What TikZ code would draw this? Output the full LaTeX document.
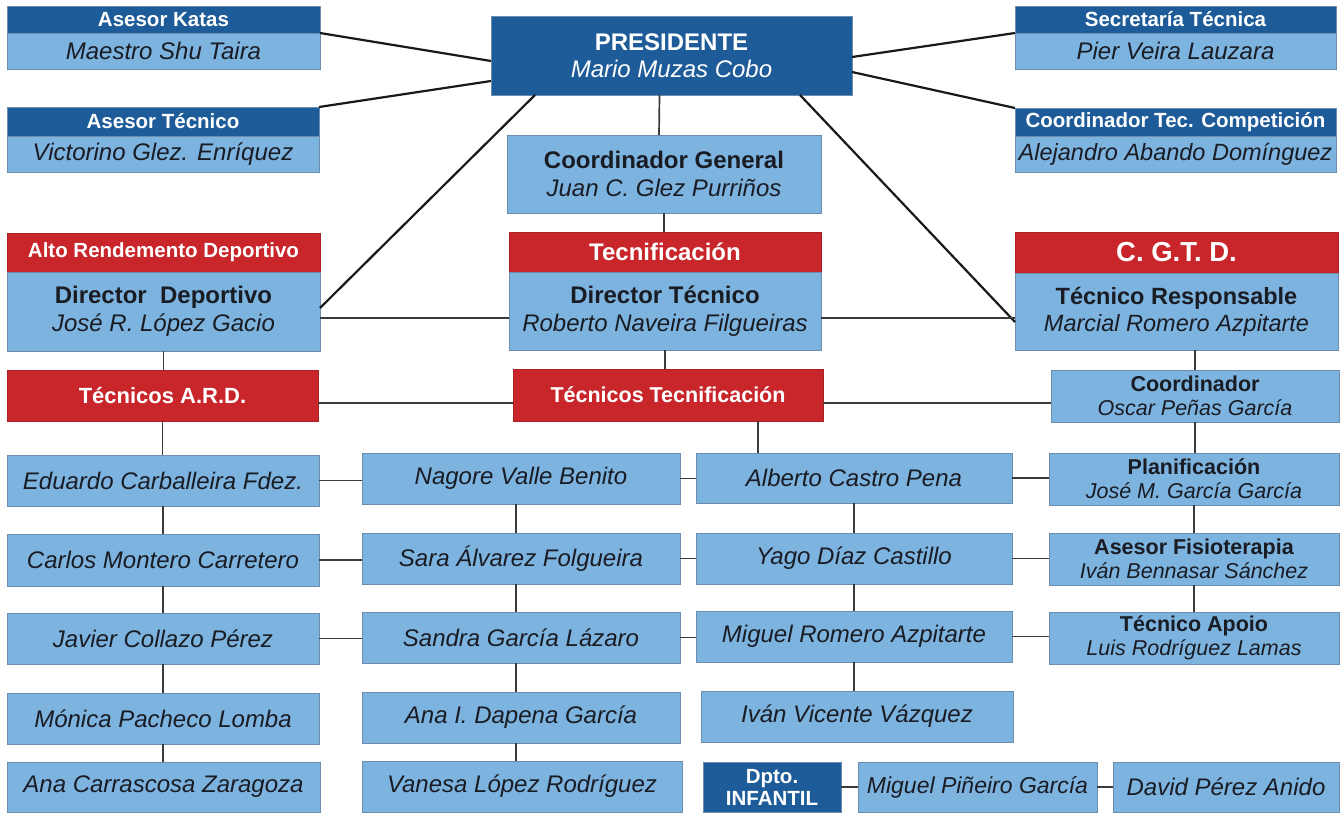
\documentclass[tikz,border=0pt]{standalone}
\usepackage{fontspec}
\setmainfont{Liberation Sans}
\usepackage{tikz}
\definecolor{azulosc}{HTML}{1E5C99}
\definecolor{azulcla}{HTML}{7DB3DF}
\definecolor{rojoard}{HTML}{C8262A}
\definecolor{borde}{HTML}{6A8DB0}
\definecolor{linea}{HTML}{3A3A3A}
\definecolor{texto}{HTML}{1A1C24}
\newcommand{\fcab}{\fontsize{20.5}{23}\selectfont\bfseries}
\newcommand{\fnom}{\fontsize{24}{27}\selectfont\itshape}
\newcommand{\fgr}{\fontsize{24}{27.5}\selectfont}
\newcommand{\fpeq}{\fontsize{21.5}{24}\selectfont}

\begin{document}
\begin{tikzpicture}[x=1pt,y=1pt]
                \tikzstyle{every node}+=[inner sep=0pt, outer sep=0pt, align=center]
                \tikzstyle{caja}=[draw=borde, line width=0.6pt]
                \tikzstyle{oscuro}=[caja, fill=azulosc, text=white]
                \tikzstyle{claro}=[caja, fill=azulcla, text=texto]
                \tikzstyle{roja}=[caja, draw=rojoard!85!black, fill=rojoard, text=white]
                \tikzstyle{recta}=[draw=linea, line width=1.7pt]
                \tikzstyle{diag}=[draw=black!90, line width=2.2pt]
                \fill [white] (0,0) rectangle (1343,-812);
                \useasboundingbox (0,0) rectangle (1343,-812);
                \node [oscuro, font=\fcab, minimum width=313pt, minimum height=27pt] (katasH) at (163.5,-19.5) {Asesor Katas};
                \node [claro, font=\fnom, minimum width=313pt, minimum height=36pt] (katasB) at (163.5,-51) {Maestro Shu Taira};
                \node [oscuro, font=\fcab, minimum width=312pt, minimum height=29pt] (atecH) at (163,-121.5) {Asesor Técnico};
                \node [claro, font=\fnom, minimum width=312pt, minimum height=36pt] (atecB) at (163,-154) {Victorino Glez. Enríquez};
                \node [oscuro, font=\fcab, minimum width=321pt, minimum height=27pt] (secH) at (1175.5,-19.5) {Secretaría Técnica};
                \node [claro, font=\fnom, minimum width=321pt, minimum height=36pt] (secB) at (1175.5,-51) {Pier Veira Lauzara};
                \node [oscuro, font=\fcab, minimum width=321pt, minimum height=28pt] (comH) at (1175.5,-122) {Coordinador Tec. Competición};
                \node [claro, font=\fontsize{23.5}{27}\selectfont\itshape, minimum width=321pt, minimum height=36pt] (comB) at (1175.5,-154) {Alejandro Abando Domínguez};
                \node [oscuro, font=\fgr, minimum width=361pt, minimum height=79pt] (pres) at (671.5,-55.5) {\bfseries PRESIDENTE\\\itshape Mario Muzas Cobo};
                \node [claro, font=\fgr, minimum width=314pt, minimum height=78pt] (cgen) at (664,-174) {\bfseries Coordinador General\\\itshape Juan C. Glez Purriños};
                \node [roja, font=\fcab, minimum width=313pt, minimum height=39pt] (ardH) at (163.5,-252.5) {Alto Rendemento Deportivo};
                \node [claro, font=\fgr, minimum width=313pt, minimum height=79pt] (ardB) at (163.5,-311.5) {\bfseries Director\ \ Deportivo\\\itshape José R. López Gacio};
                \node [roja, font=\fgr\bfseries, minimum width=312pt, minimum height=40pt] (tecH) at (665,-252) {Tecnificación};
                \node [claro, font=\fgr, minimum width=312pt, minimum height=78pt] (tecB) at (665,-311) {\bfseries Director Técnico\\\itshape Roberto Naveira Filgueiras};
                \node [roja, font=\fontsize{27.5}{30}\selectfont\bfseries, minimum width=323pt, minimum height=41pt] (cgtdH) at (1176.5,-252.5) {C. G.T. D.};
                \node [claro, font=\fontsize{23.5}{27}\selectfont, minimum width=323pt, minimum height=77pt] (cgtdB) at (1176.5,-311.5) {\bfseries Técnico Responsable\\\itshape Marcial Romero Azpitarte};
                \node [roja, font=\fontsize{22}{24}\selectfont\bfseries, minimum width=311pt, minimum height=51pt] (tard) at (162.5,-395.5) {Técnicos A.R.D.};
                \node [roja, font=\fpeq\bfseries, minimum width=310pt, minimum height=52pt] (ttec) at (668,-395) {Técnicos Tecnificación};
                \node [claro, font=\fpeq, minimum width=288pt, minimum height=52pt] (coord) at (1195,-396) {\bfseries Coordinador\\\itshape Oscar Peñas García};
                \node [claro, font=\fnom, minimum width=312pt, minimum height=51pt] (edu) at (163,-480.5) {Eduardo Carballeira Fdez.};
                \node [claro, font=\fnom, minimum width=312pt, minimum height=52pt] (carlos) at (163,-560) {Carlos Montero Carretero};
                \node [claro, font=\fnom, minimum width=312pt, minimum height=51pt] (javier) at (163,-638.5) {Javier Collazo Pérez};
                \node [claro, font=\fnom, minimum width=312pt, minimum height=51pt] (monica) at (163,-718.5) {Mónica Pacheco Lomba};
                \node [claro, font=\fnom, minimum width=313pt, minimum height=50pt] (anac) at (163.5,-787) {Ana Carrascosa Zaragoza};
                \node [claro, font=\fnom, minimum width=318pt, minimum height=51pt] (nagore) at (521,-478.5) {Nagore Valle Benito};
                \node [claro, font=\fnom, minimum width=318pt, minimum height=51pt] (sara) at (521,-558.5) {Sara Álvarez Folgueira};
                \node [claro, font=\fnom, minimum width=318pt, minimum height=51pt] (sandra) at (521,-637.5) {Sandra García Lázaro};
                \node [claro, font=\fnom, minimum width=318pt, minimum height=51pt] (anai) at (521,-717.5) {Ana I. Dapena García};
                \node [claro, font=\fnom, minimum width=320pt, minimum height=51pt] (vanesa) at (522,-786.5) {Vanesa López Rodríguez};
                \node [claro, font=\fnom, minimum width=316pt, minimum height=50pt] (alberto) at (854,-478) {Alberto Castro Pena};
                \node [claro, font=\fnom, minimum width=316pt, minimum height=51pt] (yago) at (854,-558.5) {Yago Díaz Castillo};
                \node [claro, font=\fnom, minimum width=316pt, minimum height=51pt] (miguelr) at (854,-636.5) {Miguel Romero Azpitarte};
                \node [claro, font=\fnom, minimum width=312pt, minimum height=51pt] (ivan) at (857,-716.5) {Iván Vicente Vázquez};
                \node [claro, font=\fpeq, minimum width=290pt, minimum height=52pt] (planif) at (1194,-479) {\bfseries Planificación\\\itshape José M. García García};
                \node [claro, font=\fpeq, minimum width=290pt, minimum height=52pt] (fisio) at (1194,-559) {\bfseries Asesor Fisioterapia\\\itshape Iván Bennasar Sánchez};
                \node [claro, font=\fpeq, minimum width=290pt, minimum height=52pt] (apoio) at (1194,-638) {\bfseries Técnico Apoio\\\itshape Luis Rodríguez Lamas};
                \node [oscuro, font=\fontsize{20.5}{22}\selectfont\bfseries, minimum width=138pt, minimum height=50pt] (dpto) at (772,-787) {Dpto.\\INFANTIL};
                \node [claro, font=\fontsize{23}{26}\selectfont\itshape, minimum width=239pt, minimum height=50pt] (miguelp) at (977.5,-787) {Miguel Piñeiro García};
                \node [claro, font=\fnom, minimum width=226pt, minimum height=50pt] (david) at (1226,-787) {David Pérez Anido};
                \draw [diag] (katasH.south east) -- ([yshift=-5.5pt]pres.west);
                \draw [diag] (atecH.north east) -- ([yshift=-25.5pt]pres.west);
                \draw [diag] (secH.south west) -- ([yshift=-1.5pt]pres.east);
                \draw [diag] (comH.north west) -- ([yshift=-16.5pt]pres.east);
                \draw [diag] ([xshift=44pt]pres.south west) -- ([yshift=3.5pt]ardB.east);
                \draw [diag] ([xshift=-52pt]pres.south east) -- ([yshift=-10.5pt]cgtdB.west);
                \draw [recta] ([xshift=-12pt]pres.south) -- ([xshift=-5pt]cgen.north);
                \draw [recta] (cgen.south) -- (cgen.south |- tecH.north);
                \draw [recta] ([yshift=-6.5pt]ardB.east) -- ([yshift=-7pt]tecB.west);
                \draw [recta] ([yshift=-7pt]tecB.east) -- ([yshift=-6.5pt]cgtdB.west);
                \draw [recta] (ardB.south) -- (ardB.south |- tard.north);
                \draw [recta] (tecB.south) -- (tecB.south |- ttec.north);
                \draw [recta] (coord.north |- cgtdB.south) -- (coord.north);
                \draw [recta] ([yshift=-7.5pt]tard.east) -- ([yshift=-8pt]ttec.west);
                \draw [recta] ([yshift=-8pt]ttec.east) -- ([yshift=-7pt]coord.west);
                \draw [recta] ([xshift=90pt]ttec.south) -- ([xshift=-96pt]alberto.north);
                \foreach \a/\b in {tard/edu, edu/carlos, carlos/javier, javier/monica, monica/anac, alberto/yago, yago/miguelr, miguelr/ivan, coord/planif, planif/fisio, fisio/apoio}
                  \draw [recta] (\a.south) -- (\a.south |- \b.north);
                \foreach \a/\b in {nagore/sara, sara/sandra, sandra/anai, anai/vanesa}
                  \draw [recta] ([xshift=-5pt]\a.south) -- ([xshift=-5pt]\a.south |- \b.north);
                \foreach \a/\b in {edu/nagore, carlos/sara, javier/sandra, nagore/alberto, sara/yago, sandra/miguelr, alberto/planif, yago/fisio, miguelr/apoio, dpto/miguelp, miguelp/david}
                  \draw [recta] (\a.east) -- (\a.east -| \b.west);
              \end{tikzpicture}
\end{document}
